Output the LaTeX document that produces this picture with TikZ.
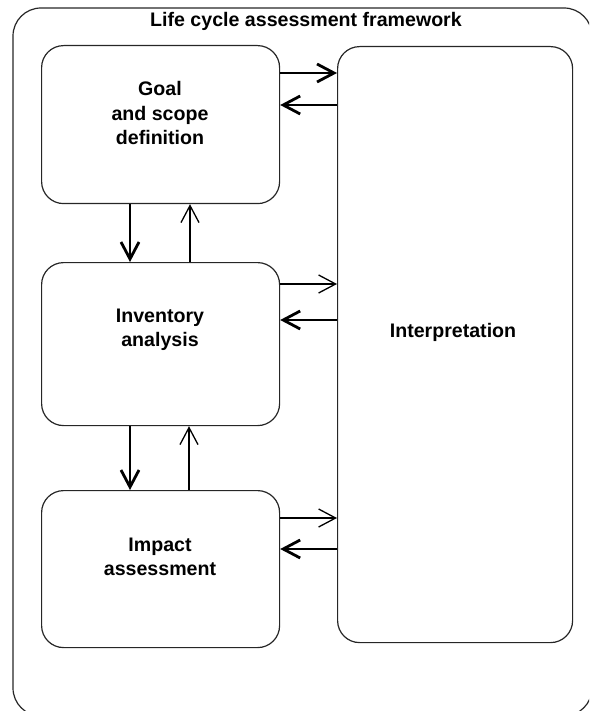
\documentclass[tikz,border=0pt]{standalone}
\usepackage{fontspec}
\setmainfont{Liberation Sans}
\usetikzlibrary{arrows.meta}
\begin{document}
\begin{tikzpicture}[x=1pt,y=-1pt,
  stage/.style={draw=black!85, line width=1.2pt, rounded corners=22pt,
    anchor=north west, inner sep=0pt},
  label/.style={font=\fontsize{19.6}{24.5}\selectfont\bfseries, align=center,
    inner sep=0pt},
  tip/.style={-{Straight Barb[length=17pt,width=18pt]}},
  heavy/.style={line width=2.8pt, tip},
  light/.style={line width=1.3pt, tip}]
\useasboundingbox (0,0) rectangle (589,711);
\clip (0,0) rectangle (589,711);

% outer frame, running past the right and bottom edges
\draw[black!85, line width=1.2pt, rounded corners=28pt] (13,8) rectangle (592,716);
\node[label] (title) at (306,21) {Life cycle assessment framework};

% phase boxes
\node[stage, minimum width=238pt, minimum height=158pt] (goal) at (41,45) {};
\node[stage, minimum width=238pt, minimum height=163pt] (inv) at (41,262) {};
\node[stage, minimum width=238pt, minimum height=157pt] (impact) at (41,490) {};
\node[stage, minimum width=235pt, minimum height=596pt] (interp) at (337,46) {};

% phase names
\node[label] (goaltxt) at (160,113) {Goal\\and scope\\definition};
\node[label] (invtxt) at (160,330) {Inventory\\analysis};
\node[label] (imptxt) at (160,557) {Impact\\assessment};
\node[label] (inttxt) at (453,332) {Interpretation};

% links to interpretation
\draw[heavy] (goal.east |- 0,73) -- (interp.west |- 0,73);
\draw[heavy] (interp.west |- 0,105) -- (goal.east |- 0,105);
\draw[light] (inv.east |- 0,284) -- (interp.west |- 0,284);
\draw[heavy] (interp.west |- 0,320) -- (inv.east |- 0,320);
\draw[light] (impact.east |- 0,518) -- (interp.west |- 0,518);
\draw[heavy] (interp.west |- 0,549) -- (impact.east |- 0,549);

% links between the phases
\draw[heavy] (goal.south -| 130,0) -- (inv.north -| 130,0);
\draw[light] (inv.north -| 190,0) -- (goal.south -| 190,0);
\draw[heavy] (inv.south -| 130,0) -- (impact.north -| 130,0);
\draw[light] (impact.north -| 189,0) -- (inv.south -| 189,0);
\end{tikzpicture}
\end{document}
